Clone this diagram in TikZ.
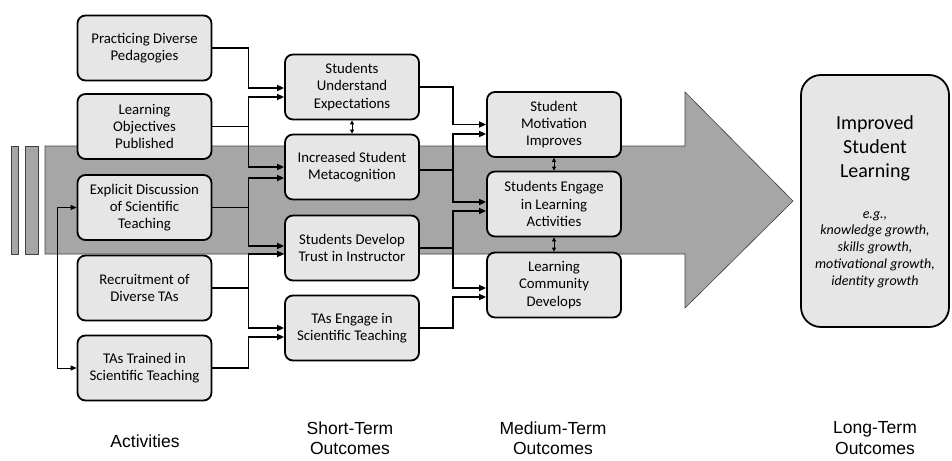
\documentclass[tikz,border=0pt]{standalone}
\usepackage{fontspec}
\setmainfont{Carlito}
\newfontfamily\labelfont{Liberation Sans}
\usetikzlibrary{arrows.meta}
\definecolor{boxfill}{HTML}{E6E6E6}
\definecolor{arrowfill}{HTML}{A6A6A6}
\begin{document}
\begin{tikzpicture}[x=1pt,y=-1pt,
 box/.style={draw=black, line width=1.8pt, fill=boxfill, rounded corners=8pt, align=center, inner sep=0pt,
   font=\fontsize{14.8}{17.3}\selectfont, minimum width=134pt, minimum height=65pt},
 conn/.style={line width=1.6pt, -{Triangle[length=7pt,width=6pt]}},
 dbl/.style={line width=0.8pt, {Triangle[length=4pt,width=4pt]}-{Triangle[length=4pt,width=4pt]}},
 fb/.style={line width=1pt, {Triangle[length=6pt,width=5pt]}-{Triangle[length=6pt,width=5pt]}},
 bigarrow/.style={fill=arrowfill, draw=black!75, line width=0.6pt},
 lbl/.style={align=center, font=\labelfont\fontsize{17.5}{20.5}\selectfont}]
\useasboundingbox (0,0) rectangle (952,460);
% big arrow
\path[bigarrow] (11,146) rectangle (18,254);
\path[bigarrow] (25,146) rectangle (38,254);
\path[bigarrow] (45,146) -- (685,146) -- (685,92) -- (793,201) -- (685,308) -- (685,254) -- (45,254) -- cycle;
% activities
\node[box] (b1) at (144.5,48) {Practicing Diverse\\Pedagogies};
\node[box] (b2) at (144.5,126.5) {Learning\\Objectives\\Published};
\node[box] (b3) at (144.5,207.5) {Explicit Discussion\\of Scientific\\Teaching};
\node[box] (b4) at (144.5,288) {Recruitment of\\Diverse TAs};
\node[box] (b5) at (144.5,368) {TAs Trained in\\Scientific Teaching};
% short-term
\node[box] (sue) at (352,87) {Students\\Understand\\Expectations};
\node[box] (ism) at (352,167) {Increased Student\\Metacognition};
\node[box] (sdt) at (352,248) {Students Develop\\Trust in Instructor};
\node[box] (tae) at (352,328) {TAs Engage in\\Scientific Teaching};
% medium-term
\node[box] (smi) at (554,124.5) {Student\\Motivation\\Improves};
\node[box] (sel) at (554,204) {Students Engage\\in Learning\\Activities};
\node[box] (lcd) at (554,285) {Learning\\Community\\Develops};
% long-term
\node[box, minimum width=148pt, minimum height=252pt, rounded corners=20pt] (lt) at (875,201) {};
\node[font=\fontsize{20}{24}\selectfont, align=center] (ltt) at (875,148) {Improved\\Student\\Learning};
\node[font=\itshape\fontsize{14}{16.7}\selectfont, align=center] (lte) at (875,249.5) {e.g.,\\knowledge growth,\\skills growth,\\motivational growth,\\identity growth};
% column labels
\node[lbl] (la) at (145,441) {Activities};
\node[lbl] (ls) at (350,438) {Short-Term\\Outcomes};
\node[lbl] (lm) at (553,438) {Medium-Term\\Outcomes};
\node[lbl] (ll) at (875,438) {Long-Term\\Outcomes};
% activities -> short-term
\draw[conn] (b1.east) -- ++(36,0) |- ([yshift=-1pt]sue.west);
\draw[conn] (b2.east) -- ++(36,0) |- ([yshift=-10pt]sue.west);
\draw[conn] (b2.east) -- ++(36,0) |- (ism.west);
\draw[conn] (b3.east) -- ++(36,0) |- ([yshift=-11pt]ism.west);
\draw[conn] (b3.east) -- ++(36,0) |- ([yshift=2pt]sdt.west);
\draw[conn] (b4.east) -- ++(36,0) |- ([yshift=-6pt]sdt.west);
\draw[conn] (b4.east) -- ++(36,0) |- (tae.west);
\draw[conn] (b5.east) -- ++(36,0) |- ([yshift=-9pt]tae.west);
% short-term -> medium-term
\draw[conn] (sue.east) -- ++(33,0) |- (smi.west);
\draw[conn] ([yshift=-3pt]ism.east) -- ++(33,0) |- ([yshift=-9.5pt]smi.west);
\draw[conn] ([yshift=-3pt]ism.east) -- ++(33,0) |- ([yshift=2pt]sel.west);
\draw[conn] (sdt.east) -- ++(33,0) |- ([yshift=-7pt]sel.west);
\draw[conn] (sdt.east) -- ++(33,0) |- ([yshift=-3pt]lcd.west);
\draw[conn] (tae.east) -- ++(33,0) |- ([yshift=-12pt]lcd.west);
% two-way links
\draw[dbl] (sue.south) -- (ism.north);
\draw[dbl] (smi.south) -- (sel.north);
\draw[dbl] (sel.south) -- (lcd.north);
\draw[fb] (b3.west) -- ++(-19,0) |- (b5.west);
\end{tikzpicture}
\end{document}
